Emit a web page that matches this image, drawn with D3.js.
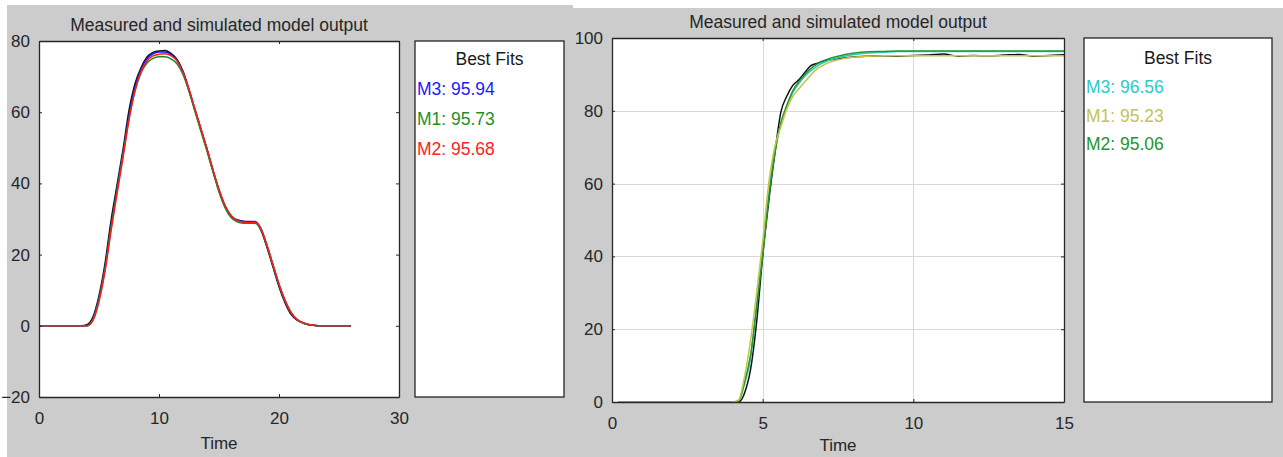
<!DOCTYPE html>
<html>
<head>
<meta charset="utf-8">
<script src="https://cdn.jsdelivr.net/npm/d3@7"></script>
<style>
    body { margin: 0; background: #ffffff; }
    svg { display: block; font-family: "Liberation Sans", Arial, Helvetica, sans-serif; }
</style>
</head>
<body>
<div id="chart"></div>
<script>
"use strict";

// ---- Left figure data (time, measured output, simulated models) ----
var leftTime = [0, 3.5, 4, 4.5, 5, 5.5, 6, 6.5, 7, 7.5, 8, 8.5, 9, 9.5, 10, 10.5, 11, 11.5, 12, 12.5,
    13, 13.5, 14, 14.5, 15, 15.5, 16, 16.5, 17, 17.5, 18, 18.5, 19, 19.5, 20, 20.5, 21, 21.5, 22, 22.5,
    23, 23.5, 26];
var leftMeasured = [0, 0, 0.3, 2.5, 8.5, 17.5, 29.5, 39.5, 49.5, 60.5, 68, 72.5, 75.5, 76.8, 77.2, 77.3, 76.5, 74.8, 71.5, 66.2,
    60.5, 55, 49.5, 43.5, 38, 33.5, 30.8, 29.8, 29.4, 29.3, 29.2, 26.8, 22, 16.5, 11, 6.5, 3.2, 1.6, 0.8, 0.3,
    0.1, 0, 0];
var leftM3 = [0, 0, 0, 2.0, 7.8, 16.5, 28, 38.5, 48.5, 59, 67, 72, 75, 76.4, 76.9, 76.9, 76.2, 74.6, 71.4, 66.4,
    60.8, 55.2, 49.6, 43.7, 38.2, 33.8, 31, 29.7, 29.3, 29.2, 29.3, 27.3, 22.5, 17, 11.5, 7, 3.6, 1.7, 0.8, 0.3,
    0.1, 0, 0];
var leftM1 = [0, 0, 0, 1.8, 7.5, 16, 27.5, 38, 48, 58.2, 66, 71, 73.8, 75.1, 75.6, 75.6, 75, 73.6, 70.6, 65.8,
    60.2, 54.6, 49, 43.2, 37.6, 33.2, 30.4, 29.2, 28.8, 28.8, 28.8, 27, 22.4, 17, 11.6, 7.1, 3.7, 1.8, 0.8, 0.3,
    0.1, 0, 0];
var leftM2 = [0, 0, 0, 1.5, 6.8, 15.2, 26.5, 37, 47.2, 57.8, 66, 71.4, 74.4, 75.8, 76.3, 76.4, 75.9, 74.4, 71.2, 66.4,
    60.8, 55.3, 49.7, 43.8, 38.3, 33.8, 31, 29.6, 29.1, 29.0, 29.1, 27.2, 22.6, 17.2, 11.7, 7.2, 3.8, 1.8, 0.9, 0.4,
    0.1, 0, 0];
var leftFitNames = ["M3", "M1", "M2"];
var leftFitValues = [95.94, 95.73, 95.68];
var leftXTicks = [0, 10, 20, 30];
var leftYTicks = [-20, 0, 20, 40, 60, 80];

// ---- Right figure data ----
var rightTime = [0.2, 1, 2, 3, 4, 4.2, 4.4, 4.6, 4.8, 5.0, 5.2, 5.4, 5.6, 5.8, 6.0, 6.2, 6.4, 6.6, 6.8, 7.0,
    7.5, 8.0, 8.5, 9.0, 9.5, 10, 10.5, 11, 11.5, 12, 12.5, 13, 13.5, 14, 14.5, 15];
var rightMeasured = [0, 0, 0, 0, 0, 0, 2.5, 9, 22, 40, 55, 68, 79.5, 84, 87, 88.5, 90.5, 92.4, 93, 93.6,
    94.3, 94.8, 95.0, 95.1, 95.0, 95.2, 95.3, 95.6, 95.0, 95.2, 95.1, 95.3, 95.5, 95.0, 95.2, 95.4];
var rightM3 = [0, 0, 0, 0, 0, 0.3, 5, 12, 27, 41, 57, 69, 76.5, 81, 85, 87.5, 89.5, 91, 92.2, 93.2,
    94.6, 95.4, 95.9, 96.1, 96.3, 96.3, 96.3, 96.3, 96.3, 96.3, 96.3, 96.3, 96.3, 96.3, 96.3, 96.3];
var rightM1 = [0, 0, 0, 0, 0, 0.5, 7, 17, 30, 44, 60, 70, 75.5, 80.5, 84, 86, 88, 89.8, 91.5, 92.5,
    94.0, 94.7, 95.0, 95.1, 95.1, 95.1, 95.1, 95.1, 95.1, 95.1, 95.1, 95.1, 95.1, 95.1, 95.1, 95.1];
var rightM2 = [0, 0, 0, 0, 0, 0.3, 5.5, 13, 26, 40.5, 56, 68, 76.5, 81.5, 85.5, 88, 90, 91.6, 92.8, 93.7,
    95.0, 95.8, 96.2, 96.3, 96.4, 96.4, 96.4, 96.4, 96.4, 96.4, 96.4, 96.4, 96.4, 96.4, 96.4, 96.4];
var rightFitNames = ["M3", "M1", "M2"];
var rightFitValues = [96.56, 95.23, 95.06];
var rightXTicks = [0, 5, 10, 15];
var rightYTicks = [0, 20, 40, 60, 80, 100];

var width = 1283, height = 457;
var axisColor = "#262626";
var titleText = "Measured and simulated model output";

var svg = d3.select("#chart").append("svg")
    .attr("width", width)
    .attr("height", height);

// Gray figure backgrounds.
svg.append("rect").attr("x", 7).attr("y", 5).attr("width", 566).attr("height", 452).attr("fill", "#cccccc");
svg.append("rect").attr("x", 573).attr("y", 8).attr("width", 710).attr("height", 449).attr("fill", "#cccccc");

// Panel layouts (pixels) and the series drawn in each, in drawing order.
var panels = [
    {
        box: {left: 39, right: 399, top: 41, bottom: 397},
        legend: {left: 415, right: 564, top: 41, bottom: 397, head: 24, first: 54, gap: 30},
        xLabelGap: 52,
        xDomain: [0, 30], yDomain: [-20, 80],
        xTicks: leftXTicks, yTicks: leftYTicks, grid: false,
        time: leftTime,
        series: [
            {values: leftMeasured, color: "#111111"},
            {values: leftM3, color: "#1515ff"},
            {values: leftM1, color: "#1a8c1a"},
            {values: leftM2, color: "#ff1a1a"}
        ],
        fitNames: leftFitNames, fitValues: leftFitValues,
        fitColors: ["#1a1aff", "#1f8f1f", "#ff2222"]
    },
    {
        box: {left: 612, right: 1064, top: 38, bottom: 402},
        legend: {left: 1084, right: 1272, top: 38, bottom: 402, head: 26, first: 55, gap: 28.5},
        xLabelGap: 49,
        xDomain: [0, 15], yDomain: [0, 100],
        xTicks: rightXTicks, yTicks: rightYTicks, grid: true,
        time: rightTime,
        series: [
            {values: rightMeasured, color: "#111111"},
            {values: rightM3, color: "#2cc9c9"},
            {values: rightM2, color: "#23962d"},
            {values: rightM1, color: "#c6c640"}
        ],
        fitNames: rightFitNames, fitValues: rightFitValues,
        fitColors: ["#2ccaca", "#c4c450", "#24942c"]
    }
];

panels.forEach(function (p) {
    var b = p.box;
    var x = d3.scaleLinear().domain(p.xDomain).range([b.left, b.right]);
    var y = d3.scaleLinear().domain(p.yDomain).range([b.bottom, b.top]);

    // White plotting area.
    svg.append("rect")
        .attr("x", b.left).attr("y", b.top)
        .attr("width", b.right - b.left).attr("height", b.bottom - b.top)
        .attr("fill", "#ffffff");

    // Grid lines (right figure only).
    if (p.grid) {
        var grid = svg.append("g").attr("stroke", "#d9d9d9").attr("stroke-width", 1);
        grid.selectAll("line.gx")
            .data(p.xTicks.filter(function (d) { return d > p.xDomain[0] && d < p.xDomain[1]; }))
            .enter().append("line")
            .attr("x1", function (d) { return Math.round(x(d)) + 0.5; })
            .attr("x2", function (d) { return Math.round(x(d)) + 0.5; })
            .attr("y1", b.top).attr("y2", b.bottom);
        grid.selectAll("line.gy")
            .data(p.yTicks.filter(function (d) { return d > p.yDomain[0] && d < p.yDomain[1]; }))
            .enter().append("line")
            .attr("y1", function (d) { return Math.round(y(d)) + 0.5; })
            .attr("y2", function (d) { return Math.round(y(d)) + 0.5; })
            .attr("x1", b.left).attr("x2", b.right);
    }

    // Lines: measured first, models on top.
    var line = d3.line()
        .x(function (d) { return x(d[0]); })
        .y(function (d) { return y(d[1]); })
        .curve(d3.curveMonotoneX);

    var clipId = "clip" + b.left;
    svg.append("clipPath").attr("id", clipId)
        .append("rect")
        .attr("x", b.left).attr("y", b.top)
        .attr("width", b.right - b.left).attr("height", b.bottom - b.top);

    var lines = svg.append("g").attr("clip-path", "url(#" + clipId + ")");
    p.series.forEach(function (s) {
        lines.append("path")
            .datum(p.time.map(function (t, i) { return [t, s.values[i]]; }))
            .attr("fill", "none")
            .attr("stroke", s.color)
            .attr("stroke-width", 1.5)
            .attr("stroke-linejoin", "round")
            .attr("d", line);
    });

    // Axes with inward ticks on all four sides.
    function styleAxis(g) {
        g.selectAll("path.domain").attr("stroke", axisColor).attr("stroke-width", 1.3);
        g.selectAll(".tick line").attr("stroke", axisColor);
        g.selectAll(".tick text").attr("fill", axisColor).attr("font-size", "17px")
            .attr("font-family", "Liberation Sans, Arial, sans-serif");
    }

    svg.append("g")
        .attr("transform", "translate(0," + b.bottom + ")")
        .call(d3.axisBottom(x).tickValues(p.xTicks).tickSizeInner(-3).tickSizeOuter(0).tickPadding(15))
        .call(styleAxis);
    svg.append("g")
        .attr("transform", "translate(0," + b.top + ")")
        .call(d3.axisTop(x).tickValues(p.xTicks).tickSizeInner(-3).tickSizeOuter(0).tickFormat(""))
        .call(styleAxis);
    svg.append("g")
        .attr("transform", "translate(" + b.left + ",0)")
        .call(d3.axisLeft(y).tickValues(p.yTicks).tickSizeInner(-3).tickSizeOuter(0).tickPadding(9))
        .call(styleAxis);
    svg.append("g")
        .attr("transform", "translate(" + b.right + ",0)")
        .call(d3.axisRight(y).tickValues(p.yTicks).tickSizeInner(-3).tickSizeOuter(0).tickFormat(""))
        .call(styleAxis);

    // Title and x label.
    svg.append("text")
        .attr("x", (b.left + b.right) / 2).attr("y", b.top - 10)
        .attr("text-anchor", "middle")
        .attr("font-size", "17.5px")
        .attr("fill", axisColor)
        .text(titleText);
    svg.append("text")
        .attr("x", (b.left + b.right) / 2).attr("y", b.bottom + p.xLabelGap)
        .attr("text-anchor", "middle")
        .attr("font-size", "17px")
        .attr("fill", axisColor)
        .text("Time");

    // "Best Fits" legend panel.
    var L = p.legend;
    svg.append("rect")
        .attr("x", L.left).attr("y", L.top)
        .attr("width", L.right - L.left).attr("height", L.bottom - L.top)
        .attr("fill", "#ffffff")
        .attr("stroke", axisColor).attr("stroke-width", 1.3);
    svg.append("text")
        .attr("x", (L.left + L.right) / 2).attr("y", L.top + L.head)
        .attr("text-anchor", "middle")
        .attr("font-size", "17.5px")
        .attr("fill", "#1a1a1a")
        .text("Best Fits");
    svg.append("g").selectAll("text")
        .data(p.fitNames)
        .enter().append("text")
        .attr("x", L.left + 2)
        .attr("y", function (d, i) { return L.top + L.first + i * L.gap; })
        .attr("font-size", "17.5px")
        .attr("fill", function (d, i) { return p.fitColors[i]; })
        .text(function (d, i) { return d + ": " + p.fitValues[i].toFixed(2); });
});
</script>
</body>
</html>
